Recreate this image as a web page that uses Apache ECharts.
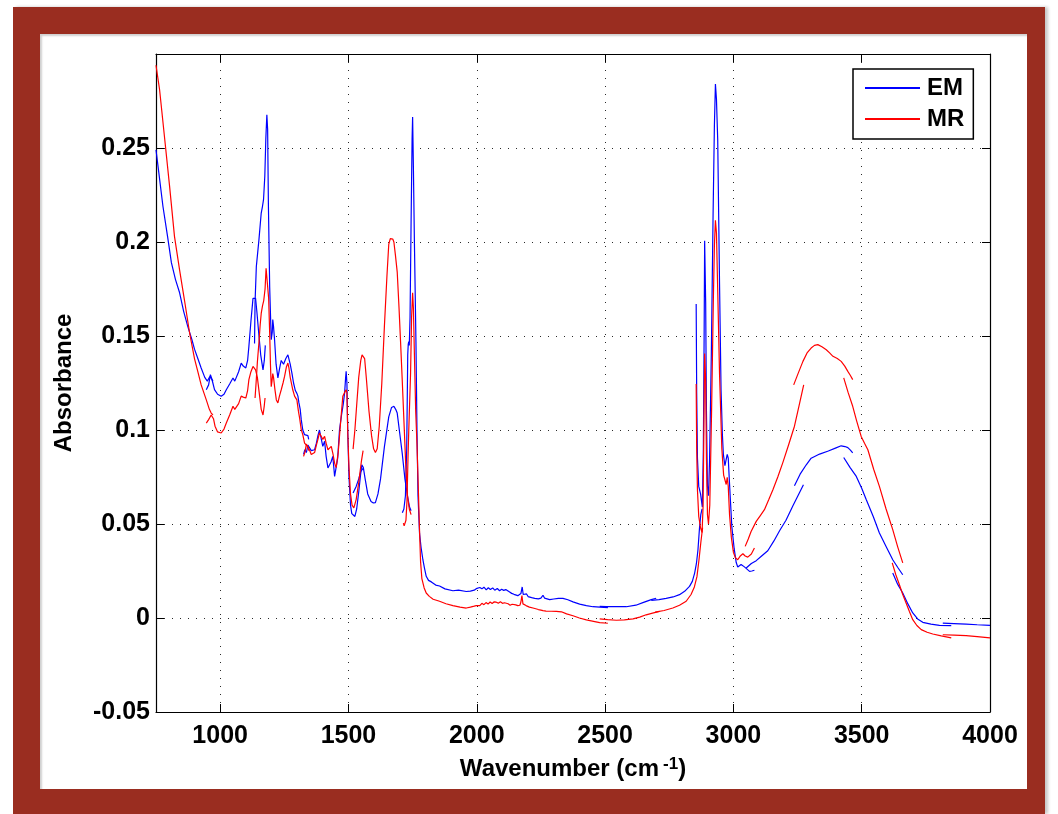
<!DOCTYPE html>
<html>
<head>
<meta charset="utf-8">
<script src="https://cdn.jsdelivr.net/npm/echarts@6/dist/echarts.min.js"></script>
<style>
  html, body { margin: 0; padding: 0; background: #ffffff; width: 1058px; height: 814px; overflow: hidden; }
  #frame { position: absolute; left: 13px; top: 7px; width: 1032px; height: 807px; background: #9a2d20; box-shadow: 3px 0 3px #c8c8c8; }
  #inner { position: absolute; left: 40px; top: 34px; width: 987px; height: 755px; background: #ffffff; box-shadow: inset 2px 2px 2px #d0d0d0; }
  #chart { position: absolute; left: 0; top: 0; width: 1058px; height: 814px; }
</style>
</head>
<body>
<div id="frame"></div>
<div id="inner"></div>
<div id="chart"></div>
<script>
// ---- tick labels ----
const xTicks = [1000, 1500, 2000, 2500, 3000, 3500, 4000];
const yTicks = [-0.05, 0, 0.05, 0.1, 0.15, 0.2, 0.25];

// ---- EM spectrum (blue), stored as the separate pieces drawn in the figure: [wavenumber, absorbance] ----
const em1 = [[750,0.249],[760,0.238],[777,0.219],[795,0.203],[810,0.189],[826,0.180],[842,0.173],[858,0.163],[874,0.155],[890,0.148],[900,0.143],[913,0.138],[926,0.133],[940,0.128],[950,0.126],[960,0.1285],[966,0.128],[972,0.126]];
const em2 = [[946,0.1214],[955,0.124],[962,0.1294],[968,0.127],[978,0.1215],[990,0.119],[1004,0.118],[1015,0.119],[1024,0.1214],[1037,0.1245],[1050,0.1277],[1057,0.126],[1063,0.126],[1072,0.131],[1082,0.1356],[1090,0.134],[1100,0.133],[1107,0.137],[1112,0.1445],[1120,0.158],[1128,0.170],[1133,0.171],[1138,0.170],[1143,0.163],[1150,0.152],[1158,0.140],[1167,0.132],[1172,0.137],[1176,0.145]];
const em3 = [[1134,0.146],[1136,0.168],[1141,0.187],[1151,0.201],[1160,0.2154],[1165,0.219],[1169,0.2225],[1174,0.235],[1178,0.255],[1182,0.2677],[1185,0.26],[1188,0.22],[1193,0.176],[1199,0.148],[1203,0.152],[1205,0.1588],[1208,0.155],[1212,0.148],[1218,0.135],[1225,0.1277],[1232,0.133],[1238,0.137],[1243,0.1365],[1247,0.135],[1256,0.138],[1264,0.140],[1268,0.139],[1273,0.135],[1280,0.130],[1286,0.125],[1293,0.121],[1299,0.1195],[1303,0.118],[1307,0.1144],[1312,0.111],[1316,0.1055],[1322,0.100],[1329,0.0975],[1335,0.097],[1342,0.097],[1345,0.095]];
const em4 = [[1325,0.087],[1330,0.0895],[1336,0.088],[1342,0.092],[1348,0.0913],[1355,0.089],[1361,0.088],[1368,0.0895],[1375,0.093],[1381,0.097],[1387,0.100],[1393,0.096],[1400,0.0913],[1407,0.094],[1413,0.086],[1420,0.0798],[1426,0.0789],[1432,0.083],[1439,0.086],[1443,0.080],[1446,0.0753],[1452,0.0753],[1458,0.085],[1465,0.100],[1473,0.108],[1480,0.114],[1485,0.1197],[1489,0.128],[1491,0.1312],[1494,0.125],[1497,0.100],[1502,0.075],[1508,0.060],[1513,0.0555],[1519,0.0545],[1525,0.054],[1532,0.058],[1540,0.067],[1547,0.076],[1552,0.0815],[1558,0.080],[1565,0.074],[1575,0.066],[1588,0.062],[1597,0.0612],[1605,0.0614],[1615,0.066],[1625,0.074],[1640,0.091],[1657,0.107],[1668,0.112],[1677,0.1126],[1684,0.111],[1690,0.109],[1700,0.098],[1710,0.087],[1720,0.074],[1730,0.065],[1738,0.059],[1744,0.057]];
const em5 = [[1518,0.0665],[1530,0.070],[1540,0.074],[1548,0.078],[1557,0.0796]];
const em6 = [[1710,0.056],[1716,0.058],[1722,0.065],[1727,0.090],[1731,0.140],[1733,0.1457],[1735,0.147],[1737,0.145],[1740,0.160],[1744,0.210],[1748,0.255],[1750,0.2665],[1753,0.240],[1757,0.200],[1763,0.147],[1767,0.100],[1771,0.065],[1777,0.045],[1783,0.0375],[1790,0.031],[1796,0.0267],[1803,0.0222],[1812,0.020],[1823,0.0192],[1840,0.0175],[1855,0.017],[1876,0.0155],[1907,0.0145],[1929,0.0148],[1959,0.0141],[1975,0.0143],[1990,0.0148],[1998,0.0156],[2005,0.0152],[2012,0.0162],[2020,0.0155],[2028,0.0164],[2037,0.015],[2045,0.0161],[2053,0.0152],[2062,0.016],[2070,0.0148],[2080,0.0157],[2089,0.0145],[2097,0.0153],[2105,0.0147],[2113,0.0151],[2120,0.0141],[2128,0.0138],[2136,0.0131],[2145,0.0126],[2152,0.0121],[2160,0.0119],[2167,0.0117],[2172,0.013],[2177,0.0165],[2181,0.0125],[2188,0.0119],[2194,0.0128],[2200,0.0114],[2207,0.0122],[2214,0.0108],[2219,0.0106],[2226,0.0104],[2232,0.011],[2240,0.0102],[2250,0.0106],[2258,0.0121],[2264,0.0106],[2270,0.0101],[2284,0.0098],[2300,0.0101],[2318,0.0104],[2336,0.0104],[2355,0.0097],[2375,0.0086],[2401,0.0074],[2427,0.0066],[2453,0.006],[2480,0.0058],[2511,0.0055]];
const em7 = [[2479,0.0062],[2505,0.006],[2540,0.006],[2583,0.006],[2620,0.0068],[2650,0.0083],[2680,0.0098],[2699,0.0105]];
const em8 = [[2680,0.0094],[2710,0.0098],[2738,0.0104],[2765,0.0112],[2790,0.0124],[2810,0.0142],[2829,0.0168],[2840,0.0195],[2849,0.0239],[2856,0.029],[2862,0.0363],[2868,0.048],[2873,0.055],[2878,0.058]];
const em9 = [[2855,0.167],[2857,0.120],[2860,0.085],[2865,0.070],[2872,0.066],[2879,0.059],[2883,0.090],[2886,0.150],[2888,0.2006],[2891,0.2006],[2892,0.168],[2895,0.110],[2899,0.070],[2903,0.065],[2907,0.083],[2914,0.140],[2921,0.2158],[2926,0.262],[2930,0.284],[2934,0.276],[2939,0.254],[2946,0.178],[2952,0.121],[2957,0.098],[2961,0.087],[2967,0.081],[2972,0.082],[2976,0.087],[2980,0.085],[2984,0.074],[2988,0.0637],[2994,0.0485],[3003,0.037],[3011,0.0295],[3017,0.0271],[3023,0.0275],[3030,0.0285],[3037,0.0287],[3043,0.0272],[3050,0.0266],[3063,0.0248],[3072,0.025],[3082,0.0254]];
const em10 = [[3050,0.0266],[3070,0.029],[3089,0.0305],[3110,0.033],[3134,0.0358],[3158,0.041],[3180,0.0464],[3205,0.052],[3232,0.0597],[3255,0.066],[3273,0.0709]];
const em11 = [[3238,0.0704],[3260,0.0765],[3284,0.0815],[3303,0.085],[3336,0.0872],[3370,0.0888],[3400,0.0905],[3420,0.0916],[3435,0.0912],[3446,0.0906],[3456,0.0893],[3465,0.0878]];
const em12 = [[3430,0.0854],[3455,0.080],[3479,0.0753],[3500,0.069],[3518,0.0629],[3545,0.054],[3569,0.0452],[3595,0.038],[3621,0.031],[3640,0.027],[3660,0.023]];
const em13 = [[3621,0.0239],[3640,0.018],[3660,0.0133],[3680,0.0075],[3699,0.0027],[3718,-0.0005],[3738,-0.0023],[3770,-0.0033],[3803,-0.0039],[3849,-0.0041]];
const em14 = [[3816,-0.0027],[3860,-0.003],[3907,-0.0033],[3950,-0.0036],[4000,-0.0039]];

// ---- MR spectrum (red) ----
const mr1 = [[750,0.294],[764,0.281],[783,0.256],[803,0.2296],[822,0.203],[842,0.185],[861,0.169],[881,0.1516],[900,0.138],[913,0.131],[926,0.124],[946,0.116],[958,0.111],[965,0.109],[972,0.108]];
const mr2 = [[946,0.1037],[955,0.1055],[965,0.108],[974,0.106],[980,0.102],[990,0.099],[1004,0.0984],[1015,0.1005],[1024,0.1037],[1037,0.108],[1050,0.1126],[1057,0.111],[1063,0.110],[1072,0.114],[1082,0.118],[1090,0.1175],[1100,0.117],[1107,0.121],[1112,0.1268],[1120,0.131],[1128,0.1338],[1133,0.133],[1138,0.132],[1145,0.128],[1152,0.120],[1160,0.111],[1167,0.108],[1172,0.113],[1175,0.117]];
const mr3 = [[1136,0.117],[1140,0.125],[1145,0.136],[1151,0.1463],[1156,0.156],[1160,0.162],[1165,0.166],[1170,0.169],[1175,0.175],[1179,0.186],[1183,0.187],[1186,0.186],[1189,0.170],[1193,0.1516],[1196,0.135],[1199,0.123],[1202,0.126],[1205,0.130],[1208,0.128],[1213,0.122],[1219,0.116],[1225,0.1144],[1231,0.118],[1238,0.1214],[1245,0.125],[1251,0.1285],[1258,0.1335],[1264,0.1356],[1268,0.133],[1273,0.128],[1283,0.1214],[1290,0.118],[1299,0.116],[1305,0.110],[1310,0.106],[1316,0.1002],[1322,0.0975],[1329,0.093],[1336,0.0931],[1342,0.091],[1345,0.089]];
const mr4 = [[1325,0.086],[1330,0.088],[1336,0.0925],[1342,0.091],[1348,0.0895],[1355,0.087],[1361,0.086],[1368,0.088],[1375,0.092],[1381,0.095],[1387,0.0984],[1393,0.098],[1400,0.095],[1407,0.0966],[1413,0.093],[1420,0.0895],[1426,0.090],[1433,0.0913],[1440,0.087],[1446,0.0824],[1452,0.080],[1460,0.088],[1467,0.100],[1473,0.110],[1478,0.1179],[1485,0.120],[1491,0.1214],[1494,0.120],[1497,0.100],[1502,0.080],[1508,0.066],[1514,0.060],[1521,0.0586],[1530,0.063],[1540,0.072],[1550,0.083],[1557,0.089]];
const mr5 = [[1518,0.0898],[1525,0.100],[1533,0.115],[1540,0.128],[1548,0.137],[1553,0.140],[1558,0.141],[1563,0.138],[1570,0.127],[1580,0.110],[1590,0.097],[1598,0.090],[1605,0.088],[1612,0.090],[1620,0.102],[1630,0.125],[1640,0.155],[1650,0.182],[1657,0.1987],[1663,0.2018],[1668,0.2024],[1673,0.2015],[1677,0.200],[1683,0.193],[1690,0.184],[1697,0.165],[1703,0.147],[1710,0.125],[1717,0.102],[1723,0.082],[1730,0.065],[1737,0.058],[1744,0.055]];
const mr6 = [[1714,0.0505],[1717,0.049],[1720,0.0485],[1724,0.052],[1728,0.062],[1732,0.085],[1735,0.0998],[1738,0.0998],[1742,0.130],[1746,0.160],[1750,0.173],[1753,0.165],[1757,0.140],[1762,0.110],[1767,0.0925],[1772,0.070],[1777,0.0463],[1781,0.030],[1786,0.021],[1795,0.016],[1803,0.0133],[1815,0.0115],[1830,0.010],[1855,0.0089],[1880,0.0076],[1907,0.0066],[1935,0.0058],[1959,0.0053],[1975,0.0058],[1990,0.0063],[1998,0.0066],[2005,0.0072],[2012,0.0066],[2020,0.0078],[2028,0.0071],[2036,0.0082],[2044,0.0074],[2052,0.0085],[2060,0.0077],[2068,0.0086],[2076,0.0084],[2084,0.0079],[2092,0.0086],[2100,0.0078],[2108,0.0081],[2115,0.0071],[2122,0.0076],[2130,0.0068],[2138,0.0073],[2145,0.0066],[2152,0.007],[2160,0.0066],[2168,0.0068],[2172,0.0085],[2176,0.0119],[2180,0.0075],[2186,0.0082],[2192,0.0066],[2198,0.007],[2205,0.0058],[2212,0.0062],[2219,0.0053],[2230,0.0049],[2240,0.0045],[2250,0.0042],[2258,0.0039],[2270,0.0037],[2290,0.0036],[2310,0.0035],[2330,0.0033],[2350,0.0022],[2375,0.0012],[2400,0.0],[2427,-0.001],[2455,-0.0018],[2479,-0.0025],[2511,-0.0028]];
const mr7 = [[2479,-0.0005],[2510,-0.0009],[2544,-0.0012],[2575,-0.001],[2609,-0.0005],[2635,0.0005],[2660,0.0017],[2685,0.0026],[2712,0.0035]];
const mr8 = [[2695,0.0031],[2730,0.004],[2764,0.0053],[2790,0.0068],[2816,0.0089],[2835,0.0125],[2848,0.0165],[2858,0.022],[2866,0.031],[2873,0.040],[2880,0.048]];
const mr9 = [[2855,0.1245],[2857,0.090],[2860,0.068],[2865,0.054],[2872,0.048],[2878,0.0455],[2882,0.060],[2885,0.100],[2888,0.1407],[2891,0.1407],[2892,0.126],[2895,0.085],[2899,0.055],[2903,0.050],[2908,0.060],[2915,0.110],[2922,0.170],[2926,0.198],[2930,0.2115],[2934,0.205],[2938,0.180],[2946,0.130],[2955,0.090],[2962,0.076],[2968,0.077],[2972,0.071],[2976,0.0748],[2980,0.070],[2985,0.055],[2992,0.043],[3000,0.035],[3008,0.032],[3017,0.031],[3027,0.033],[3037,0.0342],[3046,0.033],[3056,0.0324],[3070,0.034],[3082,0.0372]];
const mr10 = [[3046,0.0381],[3058,0.042],[3069,0.046],[3089,0.0514],[3105,0.0545],[3121,0.0576],[3138,0.063],[3154,0.0682],[3173,0.075],[3193,0.0828],[3215,0.092],[3238,0.102],[3256,0.113],[3274,0.124]];
const mr11 = [[3235,0.124],[3252,0.130],[3271,0.1365],[3287,0.141],[3303,0.1436],[3316,0.145],[3329,0.1454],[3345,0.1443],[3362,0.1427],[3375,0.141],[3388,0.1392],[3405,0.138],[3420,0.1365],[3434,0.134],[3446,0.1312],[3456,0.129],[3465,0.1268]];
const mr12 = [[3430,0.1277],[3447,0.120],[3465,0.1126],[3480,0.105],[3498,0.0966],[3511,0.093],[3524,0.0895],[3547,0.079],[3569,0.070],[3595,0.058],[3621,0.047],[3640,0.038],[3660,0.0293]];
const mr13 = [[3619,0.0293],[3633,0.023],[3647,0.0177],[3660,0.0125],[3673,0.008],[3686,0.0035],[3699,-0.0009],[3715,-0.004],[3732,-0.0062],[3755,-0.0076],[3777,-0.0085],[3810,-0.0095],[3849,-0.0106]];
const mr14 = [[3816,-0.0089],[3860,-0.0091],[3907,-0.0094],[3950,-0.0099],[4000,-0.0106]];

const emPieces = [em1, em2, em3, em4, em5, em6, em7, em8, em9, em10, em11, em12, em13, em14];
const mrPieces = [mr1, mr2, mr3, mr4, mr5, mr6, mr7, mr8, mr9, mr10, mr11, mr12, mr13, mr14];

const FONT = '"Liberation Sans", Arial, Helvetica, sans-serif';
const chart = echarts.init(document.getElementById('chart'), null, { renderer: 'canvas' });

function pieceSeries(name, color, pieces) {
  return pieces.map(d => ({
    name: name, type: 'line', data: d, symbol: 'none', showSymbol: false,
    xAxisIndex: 0, yAxisIndex: 0,
    lineStyle: { color: color, width: 1.2 }, itemStyle: { color: color },
    emphasis: { disabled: true }, silent: true, clip: true
  }));
}

const dotted = { show: true, lineStyle: { color: '#2a2a2a', width: 1, type: [1, 7] } };
const boxLine = { show: true, onZero: false, lineStyle: { color: '#000', width: 1.2 } };

const option = {
  animation: false,
  backgroundColor: 'transparent',
  grid: { left: 156, top: 54, width: 834, height: 658, containLabel: false },
  legend: {
    data: ['EM', 'MR'], orient: 'vertical', left: 853, top: 69,
    icon: 'rect', itemWidth: 55, itemHeight: 2, itemGap: 5,
    padding: [6, 9, 7, 12],
    backgroundColor: '#fff', borderColor: '#000', borderWidth: 1.5,
    textStyle: { fontFamily: FONT, fontSize: 24, fontWeight: 'bold', color: '#000', lineHeight: 26, padding: [0, 0, 0, 2] },
    selectedMode: false
  },
  xAxis: [
    {
      type: 'value', min: 750, max: 4000, position: 'bottom',
      axisLine: boxLine,
      axisTick: { show: true, inside: true, length: 8, customValues: xTicks, lineStyle: { color: '#000', width: 1 } },
      axisLabel: { customValues: xTicks, fontFamily: FONT, fontSize: 25, fontWeight: 'bold', color: '#000', margin: 12,
        formatter: v => String(v) },
      splitLine: dotted,
      name: 'Wavenumber (cm{sup|-1})', nameLocation: 'middle', nameGap: 44,
      nameTextStyle: {
        fontFamily: FONT, fontSize: 24, fontWeight: 'bold', color: '#000',
        rich: { sup: { fontFamily: FONT, fontSize: 17, fontWeight: 'bold', color: '#000', verticalAlign: 'top', padding: [0, 0, 10, 4] } }
      }
    },
    {
      type: 'value', min: 750, max: 4000, position: 'top',
      axisLine: boxLine,
      axisTick: { show: true, inside: true, length: 8, customValues: xTicks, lineStyle: { color: '#000', width: 1 } },
      axisLabel: { show: false, customValues: xTicks },
      splitLine: { show: false }
    }
  ],
  yAxis: [
    {
      type: 'value', min: -0.05, max: 0.3, interval: 0.05, position: 'left',
      axisLine: boxLine,
      axisTick: { show: true, inside: true, length: 8, lineStyle: { color: '#000', width: 1 } },
      axisLabel: {
        showMaxLabel: false, fontFamily: FONT, fontSize: 25, fontWeight: 'bold', color: '#000', margin: 6,
        formatter: v => String(+v.toFixed(2))
      },
      splitLine: dotted,
      name: 'Absorbance', nameLocation: 'middle', nameGap: 80,
      nameTextStyle: { fontFamily: FONT, fontSize: 24, fontWeight: 'bold', color: '#000' }
    },
    {
      type: 'value', min: -0.05, max: 0.3, interval: 0.05, position: 'right',
      axisLine: boxLine,
      axisTick: { show: true, inside: true, length: 8, lineStyle: { color: '#000', width: 1 } },
      axisLabel: { show: false },
      splitLine: { show: false }
    }
  ],
  series: pieceSeries('EM', '#0000ff', emPieces).concat(pieceSeries('MR', '#ff0000', mrPieces))
};
chart.setOption(option);
</script>
</body>
</html>
